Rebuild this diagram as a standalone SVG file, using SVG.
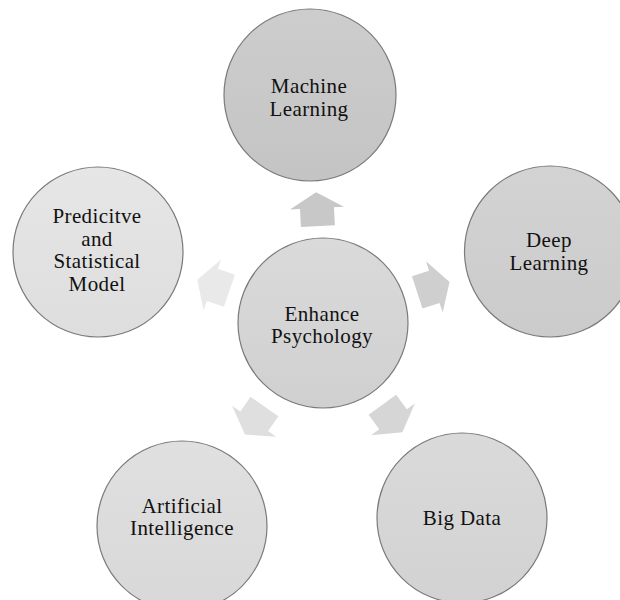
<svg xmlns="http://www.w3.org/2000/svg" width="620" height="600" viewBox="0 0 620 600">
  <style>
    .node circle { stroke: #7a7a7a; stroke-width: 1.2; }
    .node text { font-size: 21px; letter-spacing: 0.4px; fill: #111111; text-anchor: middle; }
  </style>
  <defs>
    <linearGradient id="gCenter" x1="0" y1="0" x2="0" y2="1">
      <stop offset="0" stop-color="#dadada"/>
      <stop offset="1" stop-color="#d0d0d0"/>
    </linearGradient>
    <linearGradient id="gML" x1="0" y1="0" x2="0" y2="1">
      <stop offset="0" stop-color="#cdcdcd"/>
      <stop offset="1" stop-color="#c4c4c4"/>
    </linearGradient>
    <linearGradient id="gDL" x1="0" y1="0" x2="0" y2="1">
      <stop offset="0" stop-color="#d3d3d3"/>
      <stop offset="1" stop-color="#cbcbcb"/>
    </linearGradient>
    <linearGradient id="gBD" x1="0" y1="0" x2="0" y2="1">
      <stop offset="0" stop-color="#dadada"/>
      <stop offset="1" stop-color="#d2d2d2"/>
    </linearGradient>
    <linearGradient id="gAI" x1="0" y1="0" x2="0" y2="1">
      <stop offset="0" stop-color="#e0e0e0"/>
      <stop offset="1" stop-color="#d8d8d8"/>
    </linearGradient>
    <linearGradient id="gPM" x1="0" y1="0" x2="0" y2="1">
      <stop offset="0" stop-color="#e6e6e6"/>
      <stop offset="1" stop-color="#dedede"/>
    </linearGradient>
    <!-- block arrow pointing along +x, base at the origin -->
    <path id="blockArrow" d="M0,-17 L18,-17 L18,-27 L34,0 L18,27 L18,17 L0,17 Z"/>
  </defs>

  <rect width="620" height="600" fill="#ffffff"/>

  <g id="connectors">
    <use href="#blockArrow" fill="#c8c8c8" transform="translate(317.9,226.1) rotate(-93)"/>
    <use href="#blockArrow" fill="#cfcfcf" transform="translate(417.2,292.4) rotate(-18)"/>
    <use href="#blockArrow" fill="#d6d6d6" transform="translate(382.4,404.7) rotate(54)"/>
    <use href="#blockArrow" fill="#dfdfdf" transform="translate(264.5,406.6) rotate(125)"/>
    <use href="#blockArrow" fill="#e9e9e9" transform="translate(229.4,290.8) rotate(199)"/>
  </g>

  <g id="nodes" font-family="'Liberation Serif', 'DejaVu Serif', 'Times New Roman', serif">
    <g id="node-center" class="node">
      <circle cx="323" cy="323" r="85" fill="url(#gCenter)"/>
      <text x="322" y="321">Enhance</text>
      <text x="322" y="343">Psychology</text>
    </g>

    <g id="node-machine-learning" class="node">
      <circle cx="310" cy="95" r="86" fill="url(#gML)"/>
      <text x="309" y="93">Machine</text>
      <text x="309" y="116">Learning</text>
    </g>

    <g id="node-deep-learning" class="node">
      <circle cx="550" cy="251.5" r="85.5" fill="url(#gDL)"/>
      <text x="549" y="247">Deep</text>
      <text x="549" y="270">Learning</text>
    </g>

    <g id="node-big-data" class="node">
      <circle cx="462" cy="518" r="85" fill="url(#gBD)"/>
      <text x="462" y="525">Big Data</text>
    </g>

    <g id="node-artificial-intelligence" class="node">
      <circle cx="182" cy="526" r="85" fill="url(#gAI)"/>
      <text x="182" y="513">Artificial</text>
      <text x="182" y="535">Intelligence</text>
    </g>

    <g id="node-predictive-model" class="node">
      <circle cx="98" cy="252" r="85" fill="url(#gPM)"/>
      <text x="97" y="223">Predicitve</text>
      <text x="97" y="246">and</text>
      <text x="97" y="268">Statistical</text>
      <text x="97" y="291">Model</text>
    </g>
  </g>
</svg>
